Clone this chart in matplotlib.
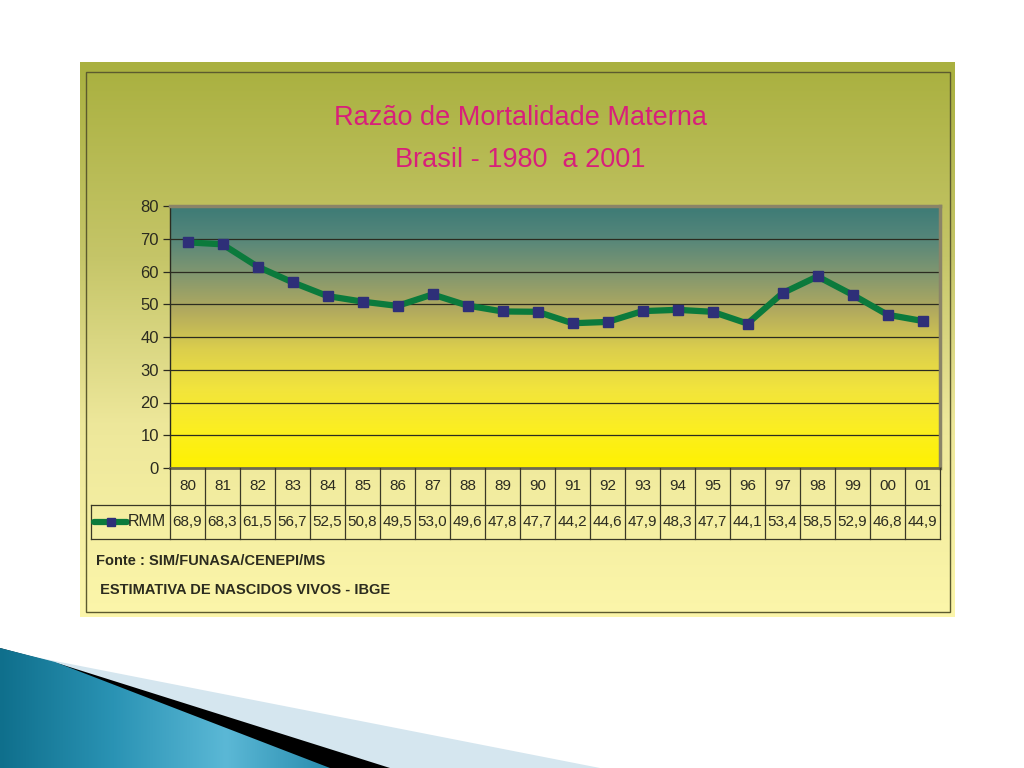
import numpy as np
import matplotlib
matplotlib.use("Agg")
import matplotlib.pyplot as plt
from matplotlib.colors import LinearSegmentedColormap
from matplotlib.patches import Polygon, Rectangle
from matplotlib.transforms import blended_transform_factory

# ---- data ----
years = ["80", "81", "82", "83", "84", "85", "86", "87", "88", "89", "90",
         "91", "92", "93", "94", "95", "96", "97", "98", "99", "00", "01"]
rmm = [68.9, 68.3, 61.5, 56.7, 52.5, 50.8, 49.5, 53.0, 49.6, 47.8, 47.7,
       44.2, 44.6, 47.9, 48.3, 47.7, 44.1, 53.4, 58.5, 52.9, 46.8, 44.9]
rmm_labels = ["68,9", "68,3", "61,5", "56,7", "52,5", "50,8", "49,5", "53,0", "49,6", "47,8", "47,7",
              "44,2", "44,6", "47,9", "48,3", "47,7", "44,1", "53,4", "58,5", "52,9", "46,8", "44,9"]
yticks = [0, 10, 20, 30, 40, 50, 60, 70, 80]
series_name = "RMM"
title1 = "Razão de Mortalidade Materna"
title2 = "Brasil - 1980  a 2001"
source1 = "Fonte : SIM/FUNASA/CENEPI/MS"
source2 = " ESTIMATIVA DE NASCIDOS VIVOS - IBGE"

plt.rcParams['font.family'] = ['Liberation Sans', 'DejaVu Sans']

W, H = 1024, 768
fig = plt.figure(figsize=(W / 100, H / 100), dpi=100)
fig.patch.set_facecolor("white")

# background axes in pixel coordinates
bg = fig.add_axes([0, 0, 1, 1])
bg.set_xlim(0, W)
bg.set_ylim(H, 0)
bg.axis("off")

# panel gradient (olive -> pale yellow)
panel_cmap = LinearSegmentedColormap.from_list(
    "panel", [(0.0, "#a9b03f"), (0.35, "#c5c568"), (0.65, "#ede79a"), (1.0, "#fcf6aa")])
grad = np.linspace(0, 1, 256).reshape(-1, 1)
bg.imshow(grad, cmap=panel_cmap, extent=[80, 955, 617, 62], aspect="auto", zorder=0)
bg.add_patch(Rectangle((86, 72), 864, 540, fill=False, edgecolor="#5c5a2e", lw=1.0, zorder=1))

# decorative shape at bottom-left
bg.add_patch(Polygon([[0, 650], [60, 662], [600, 768], [0, 768]], closed=True,
                     facecolor="#d5e6ef", edgecolor="none", zorder=1))
bg.add_patch(Polygon([[0, 648], [60, 664], [390, 768], [0, 768]], closed=True,
                     facecolor="#000000", edgecolor="none", zorder=1))
blue_cmap = LinearSegmentedColormap.from_list("blue", ["#0f6f8c", "#2a93b4", "#5bb8d6", "#2488aa"])
bimg = np.linspace(0, 1, 256).reshape(1, -1)
im = bg.imshow(bimg, cmap=blue_cmap, extent=[0, 340, 768, 645], aspect="auto", zorder=2)
clip = Polygon([[0, 648], [55, 662], [330, 768], [0, 768]], closed=True, transform=bg.transData)
im.set_clip_path(clip)

# titles
bg.text(520, 118, title1, ha="center", va="center", fontsize=19.5, color="#d81f7a", zorder=3)
bg.text(520, 160, title2, ha="center", va="center", fontsize=19.5, color="#d81f7a", zorder=3)

# sources
bg.text(96, 561, source1, ha="left", va="center", fontsize=10.5, color="#2b2b1e",
        fontweight="bold", zorder=3)
bg.text(96, 590, source2, ha="left", va="center", fontsize=10.5, color="#2b2b1e",
        fontweight="bold", zorder=3)

# main plot axes
L, R, T, B = 170, 940, 206, 468
ax = fig.add_axes([L / W, 1 - B / H, (R - L) / W, (B - T) / H])
ax.set_xlim(-0.5, len(years) - 0.5)
ax.set_ylim(0, 80)
plot_cmap = LinearSegmentedColormap.from_list(
    "plot", [(0.0, "#fff200"), (0.15, "#fbee22"), (0.3, "#f2e43c"), (0.45, "#dccf4c"),
             (0.6, "#b2aa5e"), (0.75, "#7f9670"), (0.88, "#55867a"), (1.0, "#3d7b76")])
ax.imshow(np.linspace(0, 1, 256).reshape(-1, 1), cmap=plot_cmap, origin="lower",
          extent=[-0.5, len(years) - 0.5, 0, 80], aspect="auto", zorder=0)
for yv in yticks[1:-1]:
    ax.axhline(yv, color="#2b2b20", lw=0.9, zorder=1)
x = np.arange(len(years))
ax.plot(x, rmm, color="#0b7a3c", lw=4.5, zorder=3, solid_joinstyle="round")
ax.plot(x, rmm, ls="none", marker="s", ms=6.5, color="#2e2f78", zorder=4)
ax.set_yticks(yticks)
ax.set_yticklabels([str(v) for v in yticks], fontsize=12, color="#2b2b20")
ax.set_xticks([])
ax.tick_params(axis="y", length=5, width=0.9, color="#2b2b20", pad=3)
for s in ["top", "right"]:
    ax.spines[s].set_color("#8a8468")
    ax.spines[s].set_linewidth(2.5)
ax.spines["bottom"].set_color("#6e6a50")
ax.spines["bottom"].set_linewidth(2)
ax.spines["left"].set_color("#2b2b20")
ax.spines["left"].set_linewidth(1)

# data table below the axes
tr = blended_transform_factory(ax.transData, bg.transData)
row1_top, row1_bot, row2_bot = 468, 505, 539
lc = "#3a3826"
for i in range(len(years) + 1):
    ax.plot([i - 0.5, i - 0.5], [row1_top, row2_bot], color=lc, lw=0.9,
            transform=tr, clip_on=False, zorder=5)
for yy in (row1_bot, row2_bot):
    bg.plot([91, R], [yy, yy], color=lc, lw=0.9, zorder=5)
bg.plot([91, 91], [row1_bot, row2_bot], color=lc, lw=0.9, zorder=5)
for i, (yr, lab) in enumerate(zip(years, rmm_labels)):
    ax.text(i, 486, yr, ha="center", va="center", fontsize=11, color="#2b2b20",
            transform=tr, clip_on=False)
    ax.text(i, 522, lab, ha="center", va="center", fontsize=11, color="#2b2b20",
            transform=tr, clip_on=False)
# legend key
bg.plot([94, 127], [522, 522], color="#0b7a3c", lw=4.5, zorder=6, solid_capstyle="round")
bg.plot([111], [522], ls="none", marker="s", ms=5.5, color="#2e2f78", zorder=7)
bg.text(128, 522, series_name, ha="left", va="center", fontsize=11.5, color="#2b2b20",
        zorder=7)

fig.savefig("out.png", dpi=100)
